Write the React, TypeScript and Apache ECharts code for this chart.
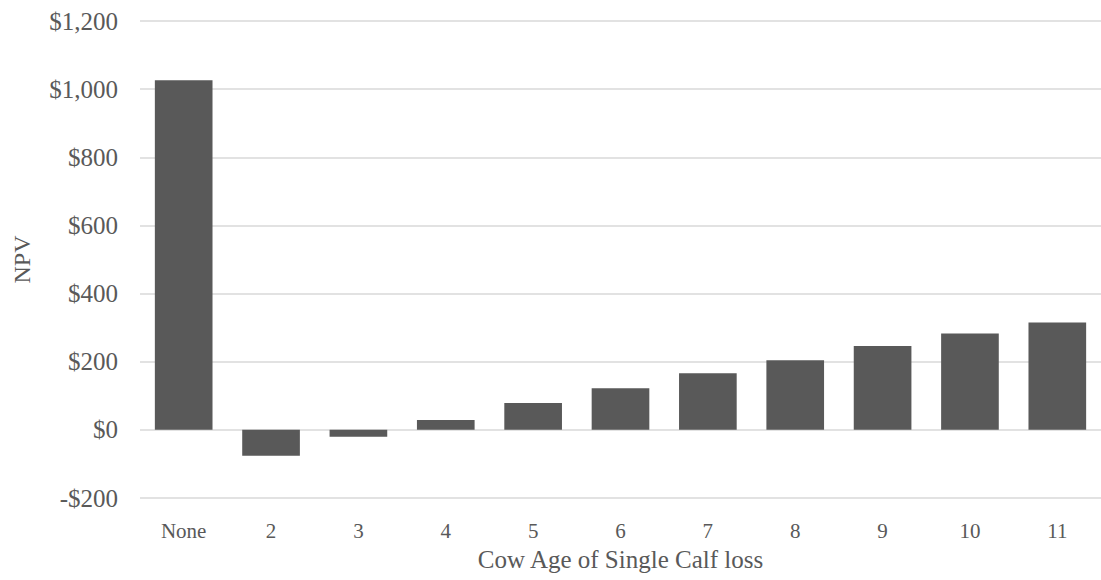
import React, { useEffect, useRef } from "react";
import * as echarts from "echarts";

const categories = ["None", "2", "3", "4", "5", "6", "7", "8", "9", "10", "11"];
const npvValues = [1026, -76, -20, 29, 79, 122, 166, 204, 246, 283, 315];
const yTicks = { min: -200, max: 1200, interval: 200 };

const fmt = (v: number) => {
  const s = "$" + Math.abs(v).toLocaleString("en-US");
  return v < 0 ? "-" + s : s;
};

export default function App() {
  const ref = useRef<HTMLDivElement>(null);
  useEffect(() => {
    if (!ref.current) return;
    const chart = echarts.init(ref.current, undefined, { renderer: "svg" });
    const font = "Liberation Serif";
    chart.setOption({
      animation: false,
      backgroundColor: "#ffffff",
      grid: { left: 140, top: 21, width: 966, height: 477, containLabel: false },
      xAxis: {
        type: "category",
        data: categories,
        axisLine: { show: false, onZero: false },
        axisTick: { show: false },
        axisLabel: { color: "#595959", fontFamily: font, fontSize: 21, margin: 22 },
        name: "Cow Age of Single Calf loss",
        nameLocation: "middle",
        nameGap: 49,
        nameTextStyle: { color: "#595959", fontFamily: font, fontSize: 25 },
      },
      yAxis: {
        type: "value",
        min: yTicks.min,
        max: yTicks.max,
        interval: yTicks.interval,
        axisLine: { show: false },
        axisTick: { show: false },
        splitLine: { lineStyle: { color: "#d9d9d9", width: 1.5 } },
        axisLabel: {
          color: "#595959",
          fontFamily: font,
          fontSize: 25,
          margin: 22,
          formatter: (v: number) => fmt(v),
        },
        name: "NPV",
        nameLocation: "middle",
        nameGap: 106,
        nameRotate: 90,
        nameTextStyle: { color: "#595959", fontFamily: font, fontSize: 24 },
      },
      series: [
        {
          type: "bar",
          data: npvValues,
          barCategoryGap: "34%",
          itemStyle: { color: "#595959" },
        },
      ],
    });
    return () => chart.dispose();
  }, []);
  return (
    <div
      ref={ref}
      style={{ position: "fixed", left: 0, top: 0, width: 1101, height: 580, background: "#fff" }}
    />
  );
}
